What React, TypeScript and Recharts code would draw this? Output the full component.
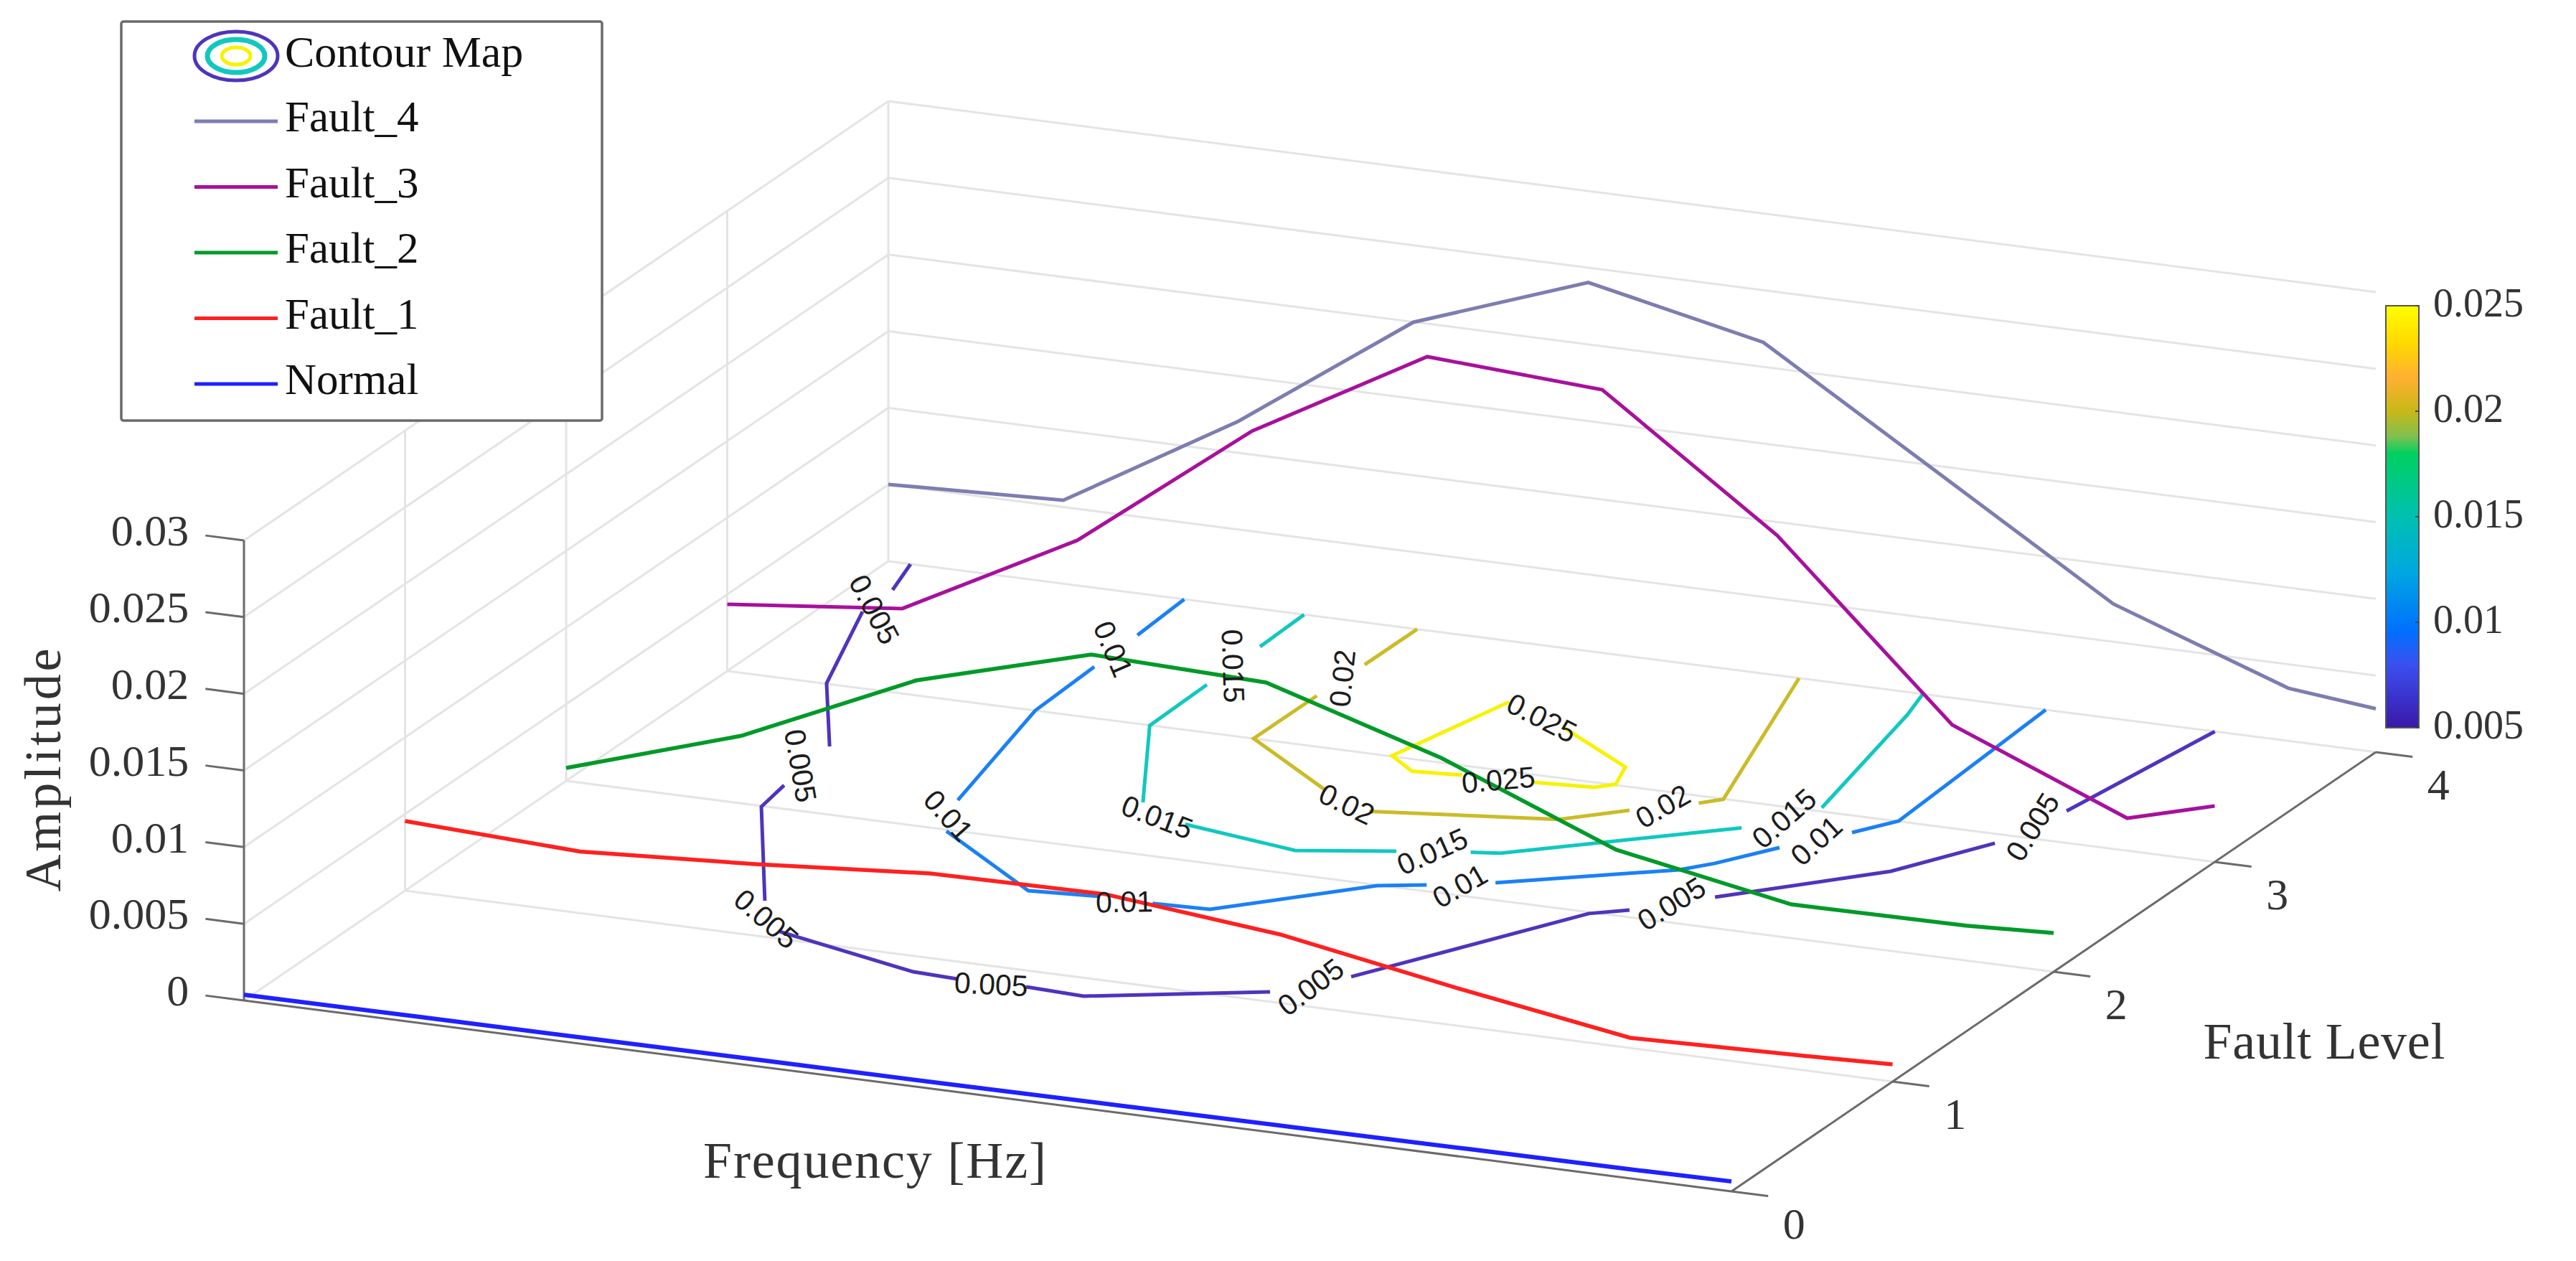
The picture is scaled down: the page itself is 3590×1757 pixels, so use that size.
import React from "react";
import { ComposedChart, Line, Scatter, XAxis, YAxis, ReferenceArea, Legend } from "recharts";

// ---------- data ----------
// Frequency positions (axis units) shared by the fault spectra
const frequency = [0, 1, 2, 3, 4, 5, 6, 7, 8, 8.5];
const normalAmp = [0.00037, 0.0004, 0.00041, 0.00044, 0.00044, 0.00048, 0.00052, 0.00056, 0.0006, 0.00065];
const fault1Amp = [0.00454, 0.00402, 0.00466, 0.00552, 0.00563, 0.00447, 0.00247, 0.00066, 0.00094, 0.00112];
const fault2Amp = [0.00084, 0.0044, 0.00948, 0.01263, 0.01227, 0.00882, 0.0043, 0.0022, 0.00227, 0.00253];
const fault3Amp = [0.00435, 0.00554, 0.01145, 0.02005, 0.02636, 0.02567, 0.01763, 0.00674, 0.00212, 0.00365];
const fault4Amp = [0.00501, 0.00544, 0.01206, 0.01998, 0.02404, 0.0216, 0.01455, 0.00747, 0.00344, 0.00283];

const amplitudeTicks = [0, 0.005, 0.01, 0.015, 0.02, 0.025, 0.03];
const amplitudeTickLabels = ["0", "0.005", "0.01", "0.015", "0.02", "0.025", "0.03"];
const levelTicks = [0, 1, 2, 3, 4];
const colorTicks = [0.005, 0.01, 0.015, 0.02, 0.025];
const colorTickLabels = ["0.005", "0.01", "0.015", "0.02", "0.025"];

// Contour polylines: [frequency, fault level], split where a label interrupts them
const contour005: number[][][] = [
  [[0.127, 4.0], [0.223, 3.784]],
  [[0.231, 3.589], [0.564, 3.004], [1.024, 2.523]],
  [[1.079, 2.181], [1.121, 1.994], [1.801, 1.277]],
  [[2.092, 1.055], [3.017, 0.878], [3.278, 0.867]],
  [[3.665, 0.874], [4.007, 0.859], [4.874, 1.075]],
  [[5.157, 1.271], [5.854, 1.989], [6.025, 2.056]],
  [[6.345, 2.239], [7.008, 2.61], [7.311, 2.927]],
  [[7.428, 3.245], [7.58, 4.0]],
];
const contour010: number[][][] = [
  [[1.691, 4.0], [1.719, 3.679]],
  [[1.735, 3.394], [1.76, 3.0], [2.02, 2.237]],
  [[2.183, 1.989], [2.997, 1.613], [3.383, 1.64]],
  [[3.685, 1.637], [4.002, 1.649], [4.639, 1.994], [4.872, 2.049]],
  [[5.188, 2.133], [5.979, 2.413], [6.107, 2.498], [6.306, 2.682]],
  [[6.548, 2.869], [6.691, 3.003], [6.614, 4.0]],
];
const contour015: number[][][] = [
  [[2.376, 4.0], [2.39, 3.711]],
  [[2.403, 3.367], [2.416, 2.998], [2.926, 2.402]],
  [[3.283, 2.276], [3.996, 2.184], [4.489, 2.277]],
  [[4.854, 2.342], [5.004, 2.365], [5.984, 2.796]],
  [[6.228, 3.029], [5.984, 3.825], [5.914, 3.994]],
];
const contour020: number[][][] = [
  [[3.022, 4.0], [3.02, 3.676]],
  [[3.01, 3.39], [3.007, 3.001], [3.716, 2.676]],
  [[4.077, 2.556], [5.045, 2.681], [5.321, 2.821]],
  [[5.603, 2.944], [5.695, 2.997], [5.205, 3.999]],
];
const contour025: number[][][] = [
  [[3.978, 3.532], [3.794, 3.005], [3.999, 2.906], [4.269, 2.925]],
  [[4.664, 2.941], [4.99, 2.962], [5.071, 3.007], [4.995, 3.149], [4.424, 3.388]],
];

// Contour labels: text and where on the floor they sit
const contourLabelText = [
  "0.005", "0.005", "0.005", "0.005", "0.005", "0.005", "0.005",
  "0.01", "0.01", "0.01", "0.01", "0.01",
  "0.015", "0.015", "0.015", "0.015",
  "0.02", "0.02", "0.02",
  "0.025", "0.025",
];
const contourLabelFreq = [0.273, 1.022, 1.935, 3.476, 5.032, 6.18, 7.374, 1.701, 2.083, 3.535, 5.036, 6.431, 2.399, 3.097, 4.661, 6.119, 3.007, 3.917, 5.45, 4.247, 4.472];
const contourLabelLevel = [3.618, 2.347, 1.141, 0.862, 1.154, 2.147, 3.09, 3.55, 2.112, 1.625, 2.076, 2.773, 3.536, 2.306, 2.313, 2.912, 3.55, 2.592, 2.886, 3.444, 2.928];

const legendRows = ["Fault_4", "Fault_3", "Fault_2", "Fault_1", "Normal"];

// ---------- styles ----------
const W = 3590;
const H = 1757;
const colorNormal = "#2020ff";
const colorF1 = "#ff2020";
const colorF2 = "#009a28";
const colorF3 = "#a8109c";
const colorF4 = "#7d7db0";
const c005 = "#4f34bc";
const c010 = "#1a80f5";
const c015 = "#10c8c0";
const c020 = "#cbbb28";
const c025 = "#f6f200";
const gridColor = "#e4e4e4";
const axisColor = "#6a6a6a";
const serif = "'Liberation Serif', serif";
const sans = "'Liberation Sans', Arial, sans-serif";
const contourLabelAngle = [62, 80, 41, 3, -37, -32, -58, 67, 48, -1, -30, -42, 88, 21, -24, -41, -84, 26, -30, 27, -5];
const legendSwatch = [colorF4, colorF3, colorF2, colorF1, colorNormal];

// ---------- 3-D view: orthographic projection onto the page ----------
const project = (f: number, level: number, amp: number) => ({
  x: 340 + (2073 / 8.5) * f + 224.5 * level,
  y: 1394 + (266 / 8.5) * f - 153 * level - (641 / 0.03) * amp,
});

const FMAX = 8.5;
const seg = (a: number[], b: number[]) => [project(a[0], a[1], a[2]), project(b[0], b[1], b[2])];
const series = (amps: number[], level: number) => amps.map((a, i) => project(frequency[i], level, a));
const contourPath = (line: number[][]) => line.map(([f, l]) => project(f, l, 0));

const gridSegments = [
  ...amplitudeTicks.filter((a) => a > 0).map((a) => seg([0, 4, a], [FMAX, 4, a])),
  ...amplitudeTicks.filter((a) => a > 0).map((a) => seg([0, 0, a], [0, 4, a])),
  ...levelTicks.filter((l) => l > 0).map((l) => seg([0, l, 0], [0, l, 0.03])),
  ...levelTicks.filter((l) => l > 0).map((l) => seg([0, l, 0], [FMAX, l, 0])),
  seg([0, 0, 0], [0, 4, 0]),
];
const axisSegments = [
  seg([0, 0, 0], [0, 0, 0.03]),
  seg([0, 0, 0], [FMAX, 0, 0]),
  seg([FMAX, 0, 0], [FMAX, 4, 0]),
  ...amplitudeTicks.map((a) => seg([-0.22, 0, a], [0, 0, a])),
  ...levelTicks.map((l) => seg([FMAX, l, 0], [FMAX + 0.21, l, 0])),
];

// colour bar scale on the page
const barLeft = 3325;
const barRight = 3371;
const barY = (v: number) => 1014 - ((v - 0.005) / 0.02) * 588;
const barTicks = colorTicks.map((v) => [
  { x: barRight - 5, y: barY(v) },
  { x: barRight, y: barY(v) },
]);

type Mark = { x: number; y: number; text: string; size: number; family: string; rotate?: number; anchor?: string; dy?: string; fill?: string; length?: number };

const textMarks: Mark[] = [
  ...amplitudeTicks.map((a, i) => {
    const p = project(-0.22, 0, a);
    return { x: p.x - 23, y: p.y - 7, text: amplitudeTickLabels[i], size: 62, family: serif, anchor: "end", dy: "0.34em", fill: "#333" };
  }),
  ...levelTicks.map((l) => {
    const p = project(FMAX + 0.21, l, 0);
    return { x: p.x + 36, y: p.y + 38, text: String(l), size: 62, family: serif, anchor: "middle", dy: "0.34em", fill: "#333" };
  }),
  ...colorTicks.map((v, i) => ({ x: 3391, y: barY(v) - 4, text: colorTickLabels[i], size: 56, family: serif, anchor: "start", dy: "0.34em", fill: "#333" })),
  { x: 84, y: 1073, text: "Amplitude", size: 72, family: serif, rotate: -90, anchor: "middle", fill: "#333", length: 339 },
  { x: 1219, y: 1641, text: "Frequency [Hz]", size: 72, family: serif, anchor: "middle", fill: "#333", length: 478 },
  { x: 3239, y: 1475, text: "Fault Level", size: 72, family: serif, anchor: "middle", fill: "#333", length: 337 },
  ...contourLabelText.map((t, i) => {
    const p = project(contourLabelFreq[i], contourLabelLevel[i], 0);
    return { x: p.x, y: p.y, text: t, size: 41, family: sans, rotate: contourLabelAngle[i], anchor: "middle", dy: "0.36em", fill: "#1c1c1c" };
  }),
];

const TextShape = (props: any) => {
  const m: Mark = props.payload;
  const { cx, cy } = props;
  return (
    <text
      x={cx}
      y={cy}
      dy={m.dy}
      fontFamily={m.family}
      fontSize={m.size}
      fill={m.fill}
      textAnchor={m.anchor as any}
      textLength={m.length}
      lengthAdjust={m.length ? "spacing" : undefined}
      transform={m.rotate ? `rotate(${m.rotate} ${cx} ${cy})` : undefined}
    >
      {m.text}
    </text>
  );
};

const LegendBox = () => (
  <svg width={674} height={560} style={{ display: "block" }}>
    <rect x={2} y={2} width={670} height={556} rx={3} fill="#fff" stroke="#6a6a6a" strokeWidth={3.5} />
    <ellipse cx={162} cy={50} rx={58} ry={34} fill="none" stroke={c005} strokeWidth={5} />
    <ellipse cx={162} cy={50} rx={40} ry={23} fill="none" stroke={c015} strokeWidth={7} />
    <ellipse cx={162} cy={50} rx={20} ry={12} fill="none" stroke={c025} strokeWidth={5} />
    <text x={230} y={65} fontFamily={serif} fontSize={62} fill="#111">Contour Map</text>
    {legendRows.map((name, i) => (
      <g key={name}>
        <line x1={104} x2={220} y1={141 + i * 91.5} y2={141 + i * 91.5} stroke={legendSwatch[i]} strokeWidth={5} />
        <text x={230} y={155 + i * 91.5} fontFamily={serif} fontSize={61} fill="#111">{name}</text>
      </g>
    ))}
  </svg>
);

const plainLine = (key: string, data: { x: number; y: number }[], stroke: string, width: number) => (
  <Line
    key={key}
    data={data}
    dataKey="y"
    type="linear"
    stroke={stroke}
    strokeWidth={width}
    dot={false}
    activeDot={false}
    isAnimationActive={false}
    legendType="none"
  />
);

export default function App() {
  return (
    <div style={{ position: "absolute", left: 0, top: 0, width: W, height: H, background: "#fff" }}>
      <ComposedChart width={W} height={H} margin={{ top: 0, right: 0, bottom: 0, left: 0 }}>
        <defs>
          <linearGradient id="parula" x1="0" y1="0" x2="0" y2="1">
            <stop offset="0" stopColor="#ffff00" />
            <stop offset="0.09" stopColor="#ffd800" />
            <stop offset="0.17" stopColor="#ffb030" />
            <stop offset="0.25" stopColor="#c8b818" />
            <stop offset="0.31" stopColor="#80c050" />
            <stop offset="0.35" stopColor="#00d060" />
            <stop offset="0.5" stopColor="#00c0b0" />
            <stop offset="0.63" stopColor="#00a8e0" />
            <stop offset="0.77" stopColor="#0070ff" />
            <stop offset="0.85" stopColor="#3a50f0" />
            <stop offset="1" stopColor="#3a18a8" />
          </linearGradient>
        </defs>
        <XAxis type="number" dataKey="x" domain={[0, W]} hide allowDataOverflow />
        <YAxis type="number" dataKey="y" domain={[0, H]} reversed hide allowDataOverflow />

        {gridSegments.map((s, i) => plainLine(`grid${i}`, s, gridColor, 3))}
        {axisSegments.map((s, i) => plainLine(`axis${i}`, s, axisColor, 3))}

        {contour005.map((l, i) => plainLine(`c005-${i}`, contourPath(l), c005, 5))}
        {contour010.map((l, i) => plainLine(`c010-${i}`, contourPath(l), c010, 5))}
        {contour015.map((l, i) => plainLine(`c015-${i}`, contourPath(l), c015, 5))}
        {contour020.map((l, i) => plainLine(`c020-${i}`, contourPath(l), c020, 5))}
        {contour025.map((l, i) => plainLine(`c025-${i}`, contourPath(l), c025, 5))}

        {plainLine("normal", series(normalAmp, 0), colorNormal, 6)}
        {plainLine("fault1", series(fault1Amp, 1), colorF1, 5.5)}
        {plainLine("fault2", series(fault2Amp, 2), colorF2, 5.5)}
        {plainLine("fault3", series(fault3Amp, 3), colorF3, 5)}
        {plainLine("fault4", series(fault4Amp, 4), colorF4, 5)}

        <ReferenceArea x1={barLeft} x2={barRight} y1={barY(0.025)} y2={barY(0.005)} fill="url(#parula)" fillOpacity={1} stroke="#555" strokeWidth={2} />
        {barTicks.map((s, i) => plainLine(`barTick${i}`, s, "#444", 2))}

        <Scatter data={textMarks} shape={TextShape} isAnimationActive={false} legendType="none" />

        <Legend
          layout="vertical"
          align="center"
          verticalAlign="middle"
          content={() => <LegendBox />}
          wrapperStyle={{ position: "absolute", left: 167, top: 28, width: 674, height: 560, transform: "none", margin: 0 }}
        />
      </ComposedChart>
    </div>
  );
}
